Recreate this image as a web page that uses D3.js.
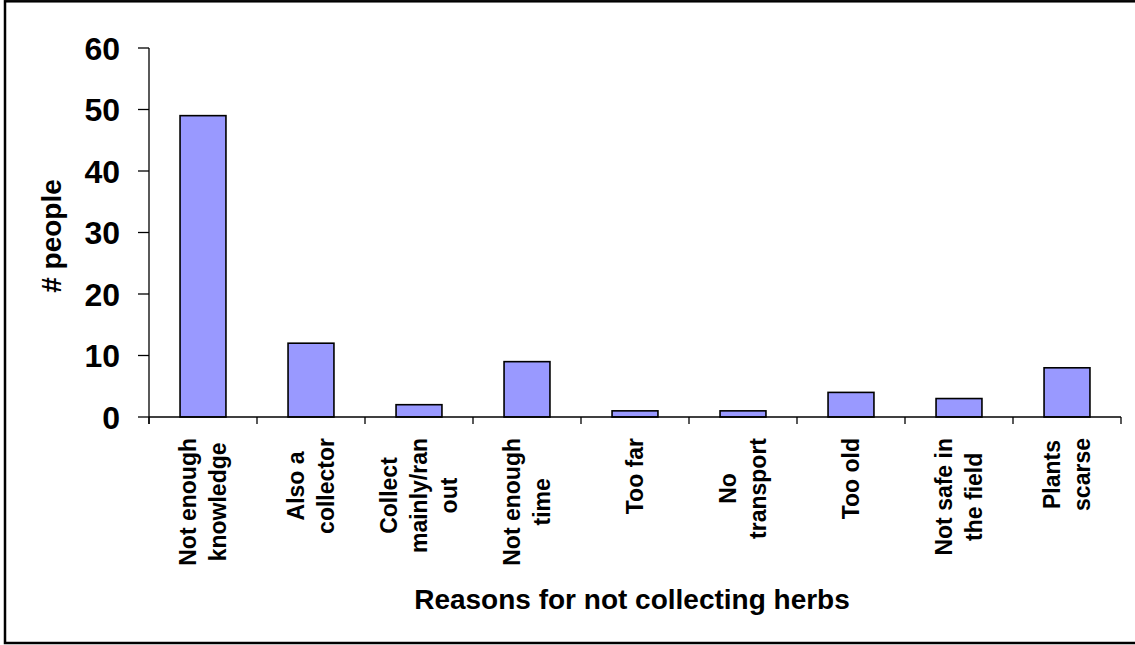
<!DOCTYPE html>
<html>
<head>
<meta charset="utf-8">
<script src="https://cdn.jsdelivr.net/npm/d3@7"></script>
<style>
  html, body { margin: 0; padding: 0; background: #fff; }
  svg { display: block; }
  text { font-family: "Liberation Sans", Arial, sans-serif; font-weight: bold; fill: #000; }
</style>
</head>
<body>
<svg id="chart" width="1135" height="645"></svg>
<script>
// ---- data ----
const categories = [
  "Not enough\nknowledge",
  "Also a\ncollector",
  "Collect\nmainly/ran\nout",
  "Not enough\ntime",
  "Too far",
  "No\ntransport",
  "Too old",
  "Not safe in\nthe field",
  "Plants\nscarse"
];
const values = [49, 12, 2, 9, 1, 1, 4, 3, 8];
const yTicks = [0, 10, 20, 30, 40, 50, 60];
const yTitle = "# people";
const xTitle = "Reasons for not collecting herbs";

// ---- layout ----
const svg = d3.select("#chart");
const plot = { left: 149, right: 1121, top: 48, bottom: 417 };

// frame
svg.append("rect")
  .attr("x", 5).attr("y", 1.3)
  .attr("width", 1140).attr("height", 641.7)
  .attr("fill", "#fff").attr("stroke", "#000").attr("stroke-width", 2.5);

const x = d3.scaleBand().domain(d3.range(categories.length))
  .range([plot.left, plot.right]).padding(0);
const y = d3.scaleLinear().domain([0, 60]).range([plot.bottom, plot.top]);

const barFrac = 0.425;
const bw = x.bandwidth() * barFrac;

// bars
svg.append("g").selectAll("rect")
  .data(values)
  .join("rect")
  .attr("x", (d, i) => x(i) + (x.bandwidth() - bw) / 2)
  .attr("y", d => y(d))
  .attr("width", bw)
  .attr("height", d => y(0) - y(d))
  .attr("fill", "#9999FF")
  .attr("stroke", "#000")
  .attr("stroke-width", 1.6);

// y axis
const yAxis = svg.append("g");
yAxis.append("line")
  .attr("x1", plot.left).attr("x2", plot.left)
  .attr("y1", plot.top).attr("y2", plot.bottom + 7)
  .attr("stroke", "#000").attr("stroke-width", 1.3);
yAxis.selectAll("line.tick").data(yTicks).join("line")
  .attr("class", "tick")
  .attr("x1", plot.left - 11).attr("x2", plot.left)
  .attr("y1", d => y(d)).attr("y2", d => y(d))
  .attr("stroke", "#000").attr("stroke-width", 1.3);
yAxis.selectAll("text").data(yTicks).join("text")
  .attr("x", 120)
  .attr("y", d => y(d))
  .attr("dy", "0.37em")
  .attr("text-anchor", "end")
  .style("font-size", "32px")
  .text(d => d);

// x axis
const xAxis = svg.append("g");
xAxis.append("line")
  .attr("x1", plot.left).attr("x2", plot.right)
  .attr("y1", plot.bottom).attr("y2", plot.bottom)
  .attr("stroke", "#000").attr("stroke-width", 1.3);
const boundaries = d3.range(categories.length + 1).map(i =>
  i < categories.length ? x(i) : x(categories.length - 1) + x.bandwidth());
xAxis.selectAll("line.tick").data(boundaries).join("line")
  .attr("class", "tick")
  .attr("x1", d => d).attr("x2", d => d)
  .attr("y1", plot.bottom).attr("y2", plot.bottom + 7)
  .attr("stroke", "#000").attr("stroke-width", 1.3);

// category labels (rotated, multi-line, centered block, aligned at top)
const labelTop = 438;
const lineStep = 30;
const capH = 16.5;
categories.forEach((c, i) => {
  const lines = c.split("\n");
  const cx = x(i) + x.bandwidth() / 2;
  const g = svg.append("g")
    .attr("transform", `translate(${cx},${labelTop}) rotate(-90)`);
  const texts = lines.map((ln, k) => g.append("text")
    .style("font-size", "23px")
    .attr("text-anchor", "middle")
    .attr("y", capH / 2 - (lines.length - 1) * lineStep / 2 + k * lineStep)
    .text(ln));
  const maxW = d3.max(texts, t => t.node().getComputedTextLength());
  texts.forEach(t => t.attr("x", -maxW / 2));
});

// axis titles
svg.append("text")
  .attr("transform", "translate(61,236) rotate(-90)")
  .attr("text-anchor", "middle")
  .style("font-size", "28px")
  .text(yTitle);

svg.append("text")
  .attr("x", 632).attr("y", 609)
  .attr("text-anchor", "middle")
  .style("font-size", "28px")
  .text(xTitle);
</script>
</body>
</html>
